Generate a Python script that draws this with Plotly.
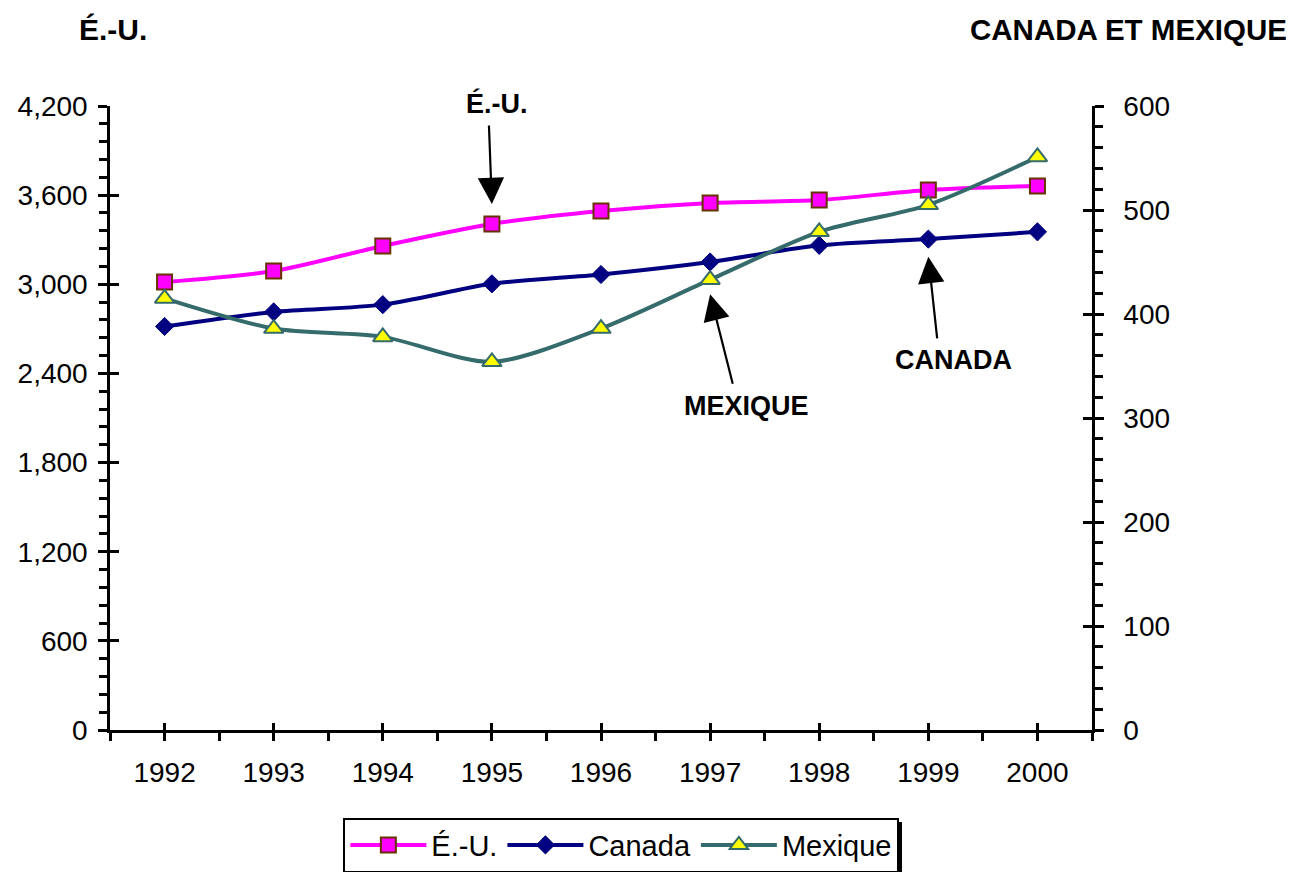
import plotly.graph_objects as go

years = ["1992", "1993", "1994", "1995", "1996", "1997", "1998", "1999", "2000"]
us_values = [3015, 3089, 3258, 3406, 3493, 3547, 3567, 3635, 3662]
canada_values = [388, 402, 409, 429, 438, 450, 466, 472, 479]
mexique_values = [415, 386, 378, 354, 386, 433, 479, 505, 551]

left_ticks = [0, 600, 1200, 1800, 2400, 3000, 3600, 4200]
right_ticks = [0, 100, 200, 300, 400, 500, 600]

idx = list(range(len(years)))
boundaries = [i - 0.5 for i in range(len(years) + 1)]

FONT = "Liberation Sans, Arial, sans-serif"

fig = go.Figure()
fig.add_trace(go.Scatter(
    x=idx, y=us_values, name="É.-U.", mode="lines+markers",
    line=dict(color="#FF00FF", width=4, shape="spline", smoothing=0.8),
    marker=dict(symbol="square", size=15, color="#FF00FF",
                line=dict(color="#663300", width=2)),
    yaxis="y", cliponaxis=False))
fig.add_trace(go.Scatter(
    x=idx, y=canada_values, name="Canada", mode="lines+markers",
    line=dict(color="#000080", width=4, shape="spline", smoothing=0.8),
    marker=dict(symbol="diamond", size=14, color="#000080",
                line=dict(color="#000080", width=1)),
    yaxis="y2", cliponaxis=False))
fig.add_trace(go.Scatter(
    x=idx, y=mexique_values, name="Mexique", mode="lines+markers",
    line=dict(color="#356B6B", width=4, shape="spline", smoothing=0.8),
    marker=dict(symbol="triangle-up", size=17, color="#FFFF00",
                line=dict(color="#356B6B", width=2)),
    yaxis="y2", cliponaxis=False))

def tfont(size):
    return dict(family=FONT, size=size, color="black")

axis_common = dict(showgrid=False, zeroline=False, linecolor="black", linewidth=2.5,
                   tickcolor="black", tickwidth=2.5, tickfont=tfont(28))

fig.update_layout(
    width=1294, height=872,
    margin=dict(l=102, r=210, t=98, b=150, autoexpand=False),
    plot_bgcolor="white", paper_bgcolor="white",
    font=dict(family=FONT, color="black"),
    xaxis=dict(range=[-0.5, 8.5], tickmode="array", tickvals=idx, ticktext=years,
               ticks="outside", ticklen=8, showline=True,
               minor=dict(tickmode="array", tickvals=boundaries, ticks="outside",
                          ticklen=8, tickwidth=2.5, tickcolor="black"),
               ticklabelstandoff=8, **axis_common),
    xaxis2=dict(range=[-0.5, 8.5], overlaying="x", anchor="y", side="bottom",
                tickmode="array", tickvals=idx, ticks="inside", ticklen=7,
                showticklabels=False, showline=False, showgrid=False, zeroline=False,
                tickcolor="black", tickwidth=2.5),
    yaxis=dict(range=[0, 4200], tickmode="array", tickvals=left_ticks,
               tickformat=",d", ticks="outside", ticklen=9, showline=True,
               minor=dict(dtick=120, ticks="outside", ticklen=8, tickwidth=2.5,
                          tickcolor="black"),
               ticklabelstandoff=5, **axis_common),
    yaxis2=dict(range=[0, 600], overlaying="y", side="right", anchor="x",
                tickmode="array", tickvals=right_ticks, ticks="outside", ticklen=9,
                showline=True,
                minor=dict(dtick=20, ticks="outside", ticklen=8, tickwidth=2.5,
                           tickcolor="black"),
                ticklabelstandoff=14, **axis_common),
    yaxis3=dict(range=[0, 4200], overlaying="y", side="left", anchor="x",
                tickmode="array", tickvals=left_ticks, ticks="inside", ticklen=9,
                showticklabels=False, showline=False, showgrid=False, zeroline=False,
                tickcolor="black", tickwidth=2.5),
    yaxis4=dict(range=[0, 600], overlaying="y", side="right", anchor="x",
                tickmode="array", tickvals=right_ticks, ticks="inside", ticklen=9,
                showticklabels=False, showline=False, showgrid=False, zeroline=False,
                tickcolor="black", tickwidth=2.5),
    showlegend=True,
    legend=dict(orientation="h", xref="container", yref="container",
                x=0.474, xanchor="center", y=0.0401, yanchor="middle",
                bordercolor="black", borderwidth=2, bgcolor="white",
                font=tfont(29), itemwidth=76, tracegroupgap=0),
)

# Legend drop shadow (decoration)
fig.add_shape(type="rect", xref="paper", yref="paper",
              x0=0.2424, x1=0.8065, y0=-0.2356, y1=-0.1474,
              fillcolor="black", line=dict(width=0), layer="above")

# Invisible helper traces so the overlay tick axes are drawn
fig.add_trace(go.Scatter(x=[None], y=[None], xaxis="x2", yaxis="y3",
                         showlegend=False, hoverinfo="skip"))
fig.add_trace(go.Scatter(x=[None], y=[None], xaxis="x2", yaxis="y4",
                         showlegend=False, hoverinfo="skip"))

bold = tfont(27)
arrow = dict(showarrow=True, arrowhead=2, arrowsize=2.4, arrowwidth=2.2,
             arrowcolor="black", text="")
label = dict(xref="paper", yref="paper", xanchor="center", yanchor="middle",
             showarrow=False, font=bold)
annotations = [
    dict(text="<b>É.-U.</b>", xref="paper", yref="paper", x=-0.0336, y=1.1218,
         xanchor="left", yanchor="middle", showarrow=False, font=tfont(30)),
    dict(text="<b>CANADA ET MEXIQUE</b>", xref="paper", yref="paper", x=1.2006, y=1.1218,
         xanchor="right", yanchor="middle", showarrow=False, font=tfont(29.5)),
    dict(text="<b>É.-U.</b>", x=0.394, y=1.0048, **label),
    dict(text="<b>MEXIQUE</b>", x=0.6477, y=0.519, **label),
    dict(text="<b>CANADA</b>", x=0.8585, y=0.593, **label),
    dict(xref="x", yref="y", x=3, y=3540, ax=-3, ay=-80, **arrow),
    dict(xref="x", yref="y2", x=5, y=419, ax=23, ay=91, **arrow),
    dict(xref="x", yref="y2", x=7, y=455, ax=9, ay=83, **arrow),
]
fig.update_layout(annotations=annotations)

fig.write_html("out.html")
